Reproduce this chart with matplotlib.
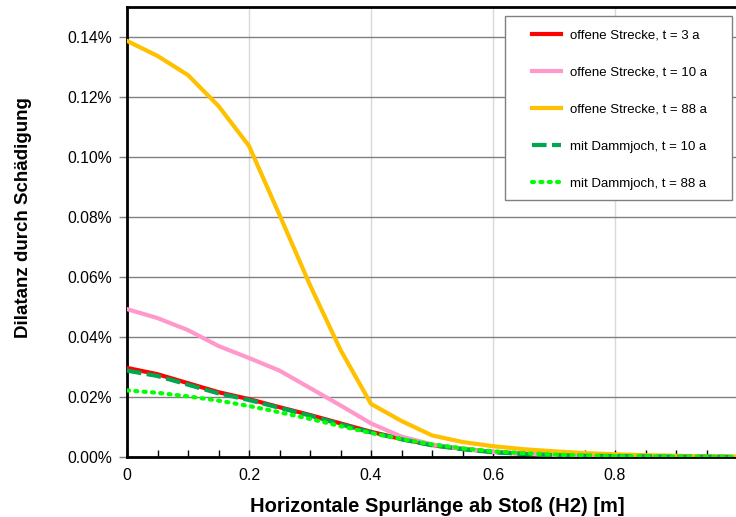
import matplotlib.pyplot as plt
from matplotlib.patches import Rectangle
from matplotlib.ticker import FuncFormatter, MultipleLocator

plt.rcParams['font.family'] = ['Liberation Sans', 'DejaVu Sans']

# Spurlänge ab Stoß [m]
x = [0.0, 0.05, 0.1, 0.15, 0.2, 0.25, 0.3, 0.35, 0.4, 0.45, 0.5,
     0.55, 0.6, 0.65, 0.7, 0.75, 0.8, 0.85, 0.9, 0.95, 1.0]

# Dilatanz durch Schädigung [%]
offen_3a = [0.0297, 0.0276, 0.0246, 0.0216, 0.0193, 0.0166, 0.0140, 0.0112, 0.0084, 0.0060, 0.0040,
            0.0027, 0.0017, 0.0011, 0.0007, 0.0004, 0.0003, 0.0002, 0.0001, 0.0001, 0.0000]
offen_10a = [0.0493, 0.0463, 0.0423, 0.0370, 0.0330, 0.0288, 0.0230, 0.0172, 0.0112, 0.0068, 0.0042,
             0.0027, 0.0017, 0.0011, 0.0007, 0.0005, 0.0003, 0.0002, 0.0001, 0.0001, 0.0000]
offen_88a = [0.1387, 0.1337, 0.1273, 0.1170, 0.1037, 0.0807, 0.0573, 0.0357, 0.0177, 0.0120, 0.0072,
             0.0050, 0.0036, 0.0026, 0.0019, 0.0013, 0.0009, 0.0006, 0.0004, 0.0002, 0.0001]
damm_10a = [0.0288, 0.0270, 0.0241, 0.0212, 0.0190, 0.0164, 0.0138, 0.0109, 0.0082, 0.0059, 0.0039,
            0.0026, 0.0016, 0.0010, 0.0006, 0.0004, 0.0003, 0.0002, 0.0001, 0.0001, 0.0000]
damm_88a = [0.0222, 0.0214, 0.0202, 0.0188, 0.0170, 0.0149, 0.0127, 0.0103, 0.0080, 0.0060, 0.0042,
            0.0029, 0.0019, 0.0013, 0.0008, 0.0005, 0.0003, 0.0002, 0.0001, 0.0001, 0.0000]

fig = plt.figure(figsize=(7.36, 5.17), dpi=100)
ax = fig.add_axes([127 / 736, 60 / 517, 610 / 736, 450 / 517])

ax.plot(x, offen_3a, color='#ff0000', lw=3, label='offene Strecke, t = 3 a', zorder=3)
ax.plot(x, offen_10a, color='#ff99cc', lw=3, label='offene Strecke, t = 10 a', zorder=3)
ax.plot(x, offen_88a, color='#ffc000', lw=3, label='offene Strecke, t = 88 a', zorder=3)
ax.plot(x, damm_10a, color='#00a650', lw=3, ls=(0, (3.5, 1.3)), label='mit Dammjoch, t = 10 a', zorder=4)
ax.plot(x, damm_88a, color='#00ff00', lw=3, ls=(0, (0.5, 1.5)), dash_capstyle='round',
        label='mit Dammjoch, t = 88 a', zorder=5)

ax.set_xlim(0, 1.0)
ax.set_ylim(0, 0.15)
ax.xaxis.set_major_locator(MultipleLocator(0.2))
ax.xaxis.set_minor_locator(MultipleLocator(0.05))
ax.yaxis.set_major_locator(MultipleLocator(0.02))
ax.xaxis.set_major_formatter(FuncFormatter(lambda v, p: '0' if v == 0 else ('' if v >= 0.99 else f'{v:.1f}')))
ax.yaxis.set_major_formatter(FuncFormatter(lambda v, p: '' if v > 0.145 else f'{v:.2f}%'))

ax.grid(axis='y', color='#808080', lw=1)
ax.grid(axis='x', color='#d9d9d9', lw=1)
ax.set_axisbelow(True)

ax.tick_params(axis='x', which='both', direction='in', length=5, width=1, labelsize=11.5, pad=8)
ax.tick_params(axis='y', direction='out', length=6, width=1, color='#808080', labelsize=11.3, pad=5)

for side in ['left', 'bottom', 'top']:
    ax.spines[side].set_linewidth(2)
    ax.spines[side].set_color('black')
ax.spines['right'].set_visible(False)

ax.set_xlabel('Horizontale Spurlänge ab Stoß (H2) [m]', fontsize=14.5, fontweight='bold')
ax.set_ylabel('Dilatanz durch Schädigung', fontsize=13.5, fontweight='bold')
ax.xaxis.set_label_coords(0.508, -0.089)
ax.yaxis.set_label_coords(-0.155, 0.531)

# Legendenrahmen separat, damit der Innenabstand links größer sein kann
ax.add_patch(Rectangle((0.620, 0.571), 0.372, 0.409, transform=ax.transAxes,
                       facecolor='white', edgecolor='#808080', lw=1, zorder=6))
leg = ax.legend(loc='upper left', bbox_to_anchor=(0.664, 0.950), fontsize=9.5, frameon=False,
                handlelength=2.2, labelspacing=1.88, borderpad=0, handletextpad=0.68,
                borderaxespad=0)
leg.set_zorder(7)

fig.savefig('out.png', dpi=100)
